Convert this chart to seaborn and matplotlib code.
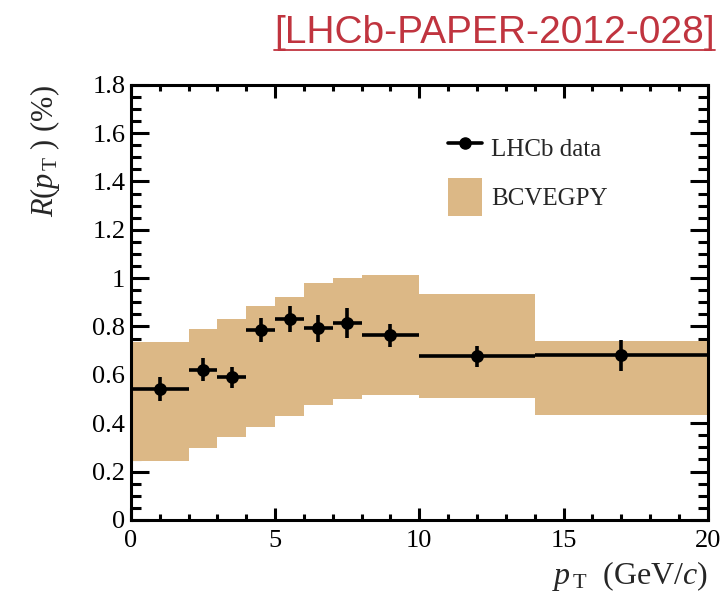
import numpy as np
import pandas as pd
import matplotlib
matplotlib.use("Agg")
import matplotlib.pyplot as plt
import seaborn as sns
from matplotlib.lines import Line2D
from matplotlib.patches import Patch
from matplotlib.ticker import MultipleLocator

# ---- data ----
pt_center = [1.0, 2.5, 3.5, 4.5, 5.5, 6.5, 7.5, 9.0, 12.0, 17.0]
pt_halfwidth = [1.0, 0.5, 0.5, 0.5, 0.5, 0.5, 0.5, 1.0, 2.0, 3.0]
r_data = [0.543, 0.621, 0.589, 0.786, 0.832, 0.792, 0.816, 0.763, 0.676, 0.681]
r_err = [0.050, 0.048, 0.044, 0.050, 0.053, 0.055, 0.062, 0.049, 0.045, 0.065]

bin_lo = [0, 2, 3, 4, 5, 6, 7, 8, 10, 14]
bin_hi = [2, 3, 4, 5, 6, 7, 8, 10, 14, 20]
band_low = [0.244, 0.297, 0.341, 0.386, 0.428, 0.476, 0.501, 0.517, 0.506, 0.432]
band_high = [0.734, 0.789, 0.832, 0.885, 0.924, 0.981, 1.001, 1.011, 0.935, 0.741]

band_color = "#dcb886"
title_color = "#c0343f"

sns.set_theme(style="ticks")
plt.rcParams["font.family"] = ["Liberation Serif", "DejaVu Serif"]
plt.rcParams["mathtext.fontset"] = "custom"
plt.rcParams["mathtext.rm"] = "Liberation Serif"
plt.rcParams["mathtext.it"] = "Liberation Serif:italic"

fig = plt.figure(figsize=(7.23, 6.01), dpi=100)
ax = fig.add_axes([0.181, 0.135, 0.798, 0.724])

band = pd.DataFrame({"lo": bin_lo, "hi": bin_hi, "low": band_low, "high": band_high})
ax.bar(band["lo"], band["high"] - band["low"], bottom=band["low"],
       width=band["hi"] - band["lo"], align="edge", color=band_color,
       edgecolor="none", linewidth=0, zorder=1)

ax.errorbar(pt_center, r_data, xerr=pt_halfwidth, yerr=r_err, fmt="none",
            ecolor="black", elinewidth=2.6, capsize=0, zorder=3)
pts = pd.DataFrame({"pt": pt_center, "r": r_data})
sns.scatterplot(data=pts, x="pt", y="r", ax=ax, color="black", s=85,
                edgecolor="black", linewidth=0, zorder=4)

ax.set_xlim(0, 20)
ax.set_ylim(0, 1.8)
ax.xaxis.set_major_locator(MultipleLocator(5))
ax.xaxis.set_minor_locator(MultipleLocator(1))
ax.yaxis.set_major_locator(MultipleLocator(0.2))
ax.yaxis.set_minor_locator(MultipleLocator(0.05))
ax.yaxis.set_major_formatter(matplotlib.ticker.FuncFormatter(
    lambda v, p: "0" if abs(v) < 1e-9 else ("1" if abs(v - 1) < 1e-9 else f"{v:.1f}")))

ax.tick_params(which="both", direction="in", top=True, right=True,
               labelsize=19, width=2.2, colors="black")
ax.tick_params(axis="y", which="major", length=13, pad=4)
ax.tick_params(axis="y", which="minor", length=7)
ax.tick_params(axis="x", which="major", length=9, pad=7)
ax.tick_params(axis="x", which="minor", length=4.5)
for s in ax.spines.values():
    s.set_linewidth(2.2)
    s.set_color("black")

ax.set_xlabel(r"$p_{\,\mathrm{T}}\ $ (GeV/$c$)", fontsize=23, ha="right", x=1.0, labelpad=5)
ax.set_ylabel(r"$R(p_{\,\mathrm{T}}\ )$ (%)", fontsize=22, ha="right", y=1.0, labelpad=22)

handles = [Line2D([0], [0], color="black", lw=2.6, marker="o", markersize=8),
           Patch(facecolor=band_color, edgecolor="none")]
leg = ax.legend(handles, ["LHCb data", "BCVEGPY"], loc="upper left",
                bbox_to_anchor=(0.533, 0.92), frameon=False, fontsize=18,
                handlelength=1.35, handleheight=1.95, labelspacing=0.42,
                handletextpad=0.35, borderaxespad=0)

title = fig.text(0.989, 0.945, "[LHCb-PAPER-2012-028]", ha="right", va="center",
                 color=title_color, fontsize=28, family="Liberation Sans")
fig.canvas.draw()
bb = title.get_window_extent().transformed(fig.transFigure.inverted())
fig.add_artist(Line2D([bb.x0, bb.x1], [0.917, 0.917], color=title_color, lw=1.3))

fig.savefig("out.png", dpi=100)
